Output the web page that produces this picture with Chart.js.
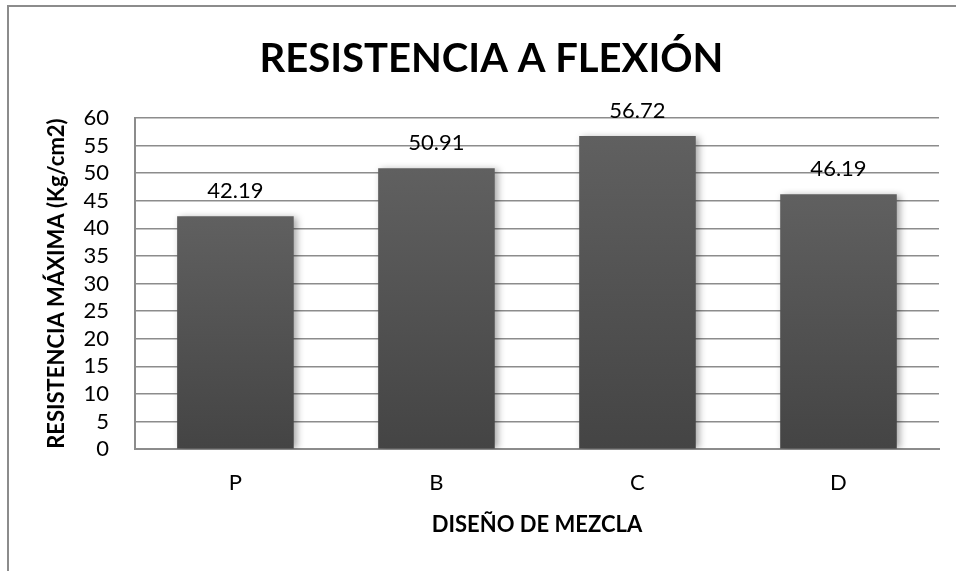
<!DOCTYPE html>
<html>
<head>
<meta charset="utf-8">
<script src="https://cdn.jsdelivr.net/npm/chart.js@4/dist/chart.umd.min.js"></script>
<style>
  html, body { margin: 0; padding: 0; background: #fff; }
  #wrap { position: relative; width: 956px; height: 571px; }
  #frame {
    position: absolute; left: 7px; top: 5px; right: 0; bottom: 0;
    border-left: 2px solid #8c8c8c; border-top: 2px solid #8c8c8c;
    pointer-events: none;
  }
  canvas { position: absolute; left: 0; top: 0; }
</style>
</head>
<body>
<div id="wrap">
  <canvas id="chart" width="956" height="571"></canvas>
  <div id="frame"></div>
</div>
<script>
const categories = ["P", "B", "C", "D"];
const resistencia = [42.19, 50.91, 56.72, 46.19];
const yTicks = [0, 5, 10, 15, 20, 25, 30, 35, 40, 45, 50, 55, 60];

const FONT = "Lato, 'Open Sans', sans-serif";

// gradient per bar, top lighter, bottom darker
function barGradient(context) {
  const chart = context.chart;
  const y = chart.scales.y;
  if (!chart.chartArea || !y || !context.parsed) return "#555";
  const top = y.getPixelForValue(context.parsed.y);
  const bottom = y.getPixelForValue(0);
  if (!isFinite(top) || !isFinite(bottom)) return "#555";
  const g = chart.ctx.createLinearGradient(0, top, 0, bottom);
  g.addColorStop(0, "#606060");
  g.addColorStop(1, "#444444");
  return g;
}

const barShadow = {
  id: "barShadow",
  beforeDatasetDraw(chart) {
    const ctx = chart.ctx;
    ctx.save();
    ctx.shadowColor = "rgba(0,0,0,0.35)";
    ctx.shadowBlur = 7;
    ctx.shadowOffsetX = 3;
    ctx.shadowOffsetY = 1;
  },
  afterDatasetDraw(chart) {
    chart.ctx.restore();
  }
};

const valueLabels = {
  id: "valueLabels",
  afterDatasetsDraw(chart) {
    const ctx = chart.ctx;
    const meta = chart.getDatasetMeta(0);
    ctx.save();
    ctx.font = "22px " + FONT;
    ctx.fillStyle = "#000";
    ctx.textAlign = "center";
    ctx.textBaseline = "alphabetic";
    meta.data.forEach((bar, i) => {
      ctx.fillText(resistencia[i].toFixed(2), bar.x, bar.y - 18);
    });
    ctx.restore();
  }
};

new Chart(document.getElementById("chart"), {
  type: "bar",
  data: {
    labels: categories,
    datasets: [{
      label: "Resistencia",
      data: resistencia,
      backgroundColor: barGradient,
      borderWidth: 0,
      categoryPercentage: 1,
      barPercentage: 0.58
    }]
  },
  options: {
    responsive: false,
    animation: false,
    layout: { padding: { left: 44, right: 17, top: 35, bottom: 33 } },
    plugins: {
      legend: { display: false },
      tooltip: { enabled: false },
      title: {
        display: true,
        text: "RESISTENCIA A FLEXIÓN",
        color: "#000",
        font: { family: FONT, size: 40, weight: "bold" },
        padding: { top: 0, bottom: 35 },
        align: "center"
      }
    },
    scales: {
      x: {
        z: 1,
        grid: { display: false, drawTicks: false },
        border: { display: true, color: "#8c8c8c", width: 2 },
        ticks: { color: "#000", font: { family: FONT, size: 22 }, padding: 21 },
        title: {
          display: true,
          text: "DISEÑO DE MEZCLA",
          color: "#000",
          font: { family: FONT, size: 22, weight: "bold" },
          padding: { top: -6, bottom: 0 }
        }
      },
      y: {
        min: 0,
        max: 60,
        afterBuildTicks(scale) {
          scale.ticks = yTicks.map(v => ({ value: v }));
        },
        grid: { color: "#8c8c8c", lineWidth: 1.5, drawTicks: false },
        border: { display: true, color: "#8c8c8c", width: 2 },
        ticks: { color: "#000", font: { family: FONT, size: 22 }, padding: 26, autoSkip: false },
        title: {
          display: true,
          text: "RESISTENCIA MÁXIMA (Kg/cm2)",
          color: "#000",
          font: { family: FONT, size: 22, weight: "bold" },
          padding: { top: 0, bottom: -13 }
        }
      }
    }
  },
  plugins: [barShadow, valueLabels]
});
</script>
</body>
</html>
